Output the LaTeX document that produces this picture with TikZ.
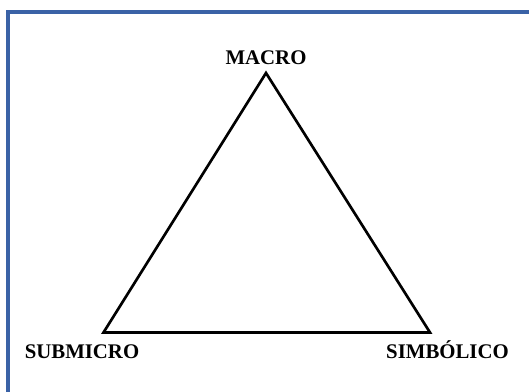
\documentclass[tikz,border=0pt]{standalone}
\usepackage{fontspec}
\setmainfont{Liberation Serif}
\usepackage{xcolor}
\usepackage{tikz}
\usetikzlibrary{positioning}
\definecolor{framecol}{HTML}{3A62A6}

\begin{document}
\begin{tikzpicture}[
x=0.75pt, y=0.75pt,
level/.style={font=\bfseries\fontsize{15.6}{18}\selectfont, inner sep=0pt},
side/.style={line width=2pt, line join=miter},
frame/.style={draw=framecol, line width=2.6pt}
]
\useasboundingbox (0,0) rectangle (529,392);
\clip (0,0) rectangle (529,392);
\draw[frame] (8,380) rectangle (560,-20);
% vertices of the triangle
\coordinate (macro) at (266,319);
\coordinate (submicro) at (103.5,59.5);
\coordinate (simbolico) at (430,59.5);
\node[level, above=6.3pt of macro] (lmacro) {MACRO};
\node[level] (lsubmicro) at (82,40.5) {SUBMICRO};
\node[level] (lsimbolico) at (447.5,42) {SIMBÓLICO};
\draw[side] (macro) -- (submicro) -- (simbolico) -- cycle;
\end{tikzpicture}
\end{document}
